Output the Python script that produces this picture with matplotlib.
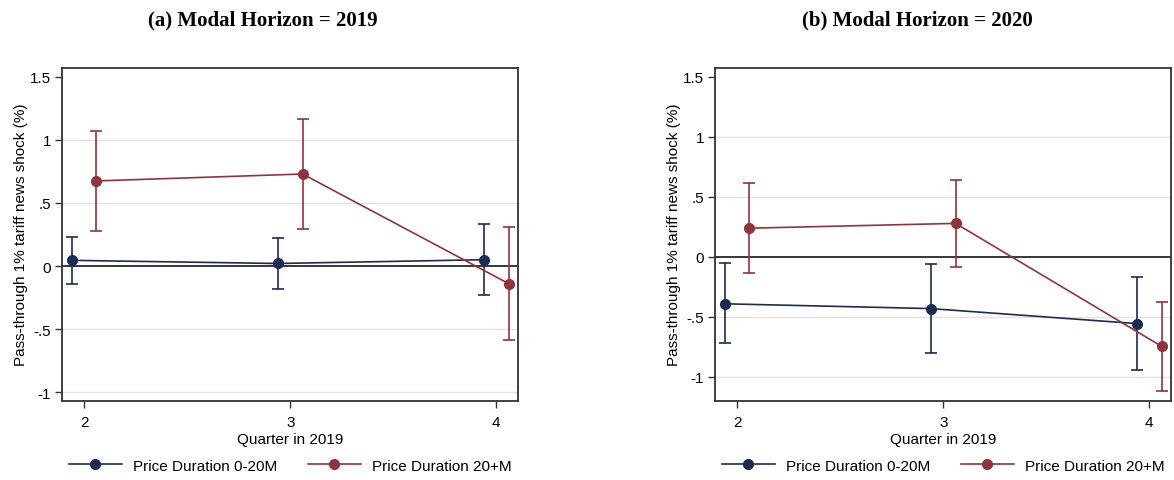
import matplotlib.pyplot as plt

# quarters and point estimates / 95% bands for each panel
quarters = [2, 3, 4]
series_names = ["Price Duration 0-20M", "Price Duration 20+M"]

# (a) modal horizon 2019
a_short = [0.045, 0.02, 0.05]
a_short_lo = [-0.14, -0.18, -0.23]
a_short_hi = [0.23, 0.22, 0.335]
a_long = [0.675, 0.73, -0.14]
a_long_lo = [0.28, 0.29, -0.59]
a_long_hi = [1.07, 1.17, 0.31]

# (b) modal horizon 2020
b_short = [-0.39, -0.43, -0.555]
b_short_lo = [-0.72, -0.80, -0.945]
b_short_hi = [-0.05, -0.06, -0.17]
b_long = [0.24, 0.28, -0.745]
b_long_lo = [-0.13, -0.08, -1.12]
b_long_hi = [0.62, 0.64, -0.375]

ytick_vals = [-1, -0.5, 0, 0.5, 1, 1.5]
ytick_labels = ["-1", "-.5", "0", ".5", "1", "1.5"]

NAVY = "#1c2b52"
MAROON = "#90343c"

plt.rcParams["font.family"] = ["Liberation Sans", "DejaVu Sans"]
plt.rcParams["font.size"] = 11

W, H = 1174, 481
fig = plt.figure(figsize=(W / 100, H / 100), dpi=100)


def px_axes(x0, y0, x1, y1):
    return fig.add_axes([x0 / W, 1 - y1 / H, (x1 - x0) / W, (y1 - y0) / H])


def draw_panel(ax, title, title_x, short, s_lo, s_hi, long_, l_lo, l_hi, ylim):
    off = 0.06
    xs = [q - off for q in quarters]
    xl = [q + off for q in quarters]
    for x, m, lo, hi, col, name in [
        (xs, short, s_lo, s_hi, NAVY, series_names[0]),
        (xl, long_, l_lo, l_hi, MAROON, series_names[1]),
    ]:
        err = [[v - l for v, l in zip(m, lo)], [h - v for v, h in zip(m, hi)]]
        ax.errorbar(x, m, yerr=err, fmt="none", ecolor=col, elinewidth=1.2,
                    capsize=4, capthick=1.2, zorder=3)
        ax.plot(x, m, color=col, lw=1.2, marker="o", markersize=7,
                label=name, zorder=4)

    for y in [-1, -0.5, 0.5, 1]:
        ax.axhline(y, color="#e3e3e3", lw=1, zorder=1)
    ax.axhline(0, color="black", lw=1.1, zorder=2)

    ax.set_xlim(1.893, 4.105)
    ax.set_ylim(*ylim)
    ax.set_xticks(quarters)
    ax.set_xticklabels([str(q) for q in quarters])
    ax.set_yticks(ytick_vals)
    ax.set_yticklabels(ytick_labels)
    ax.tick_params(direction="out", length=5, width=1, color="#333333",
                   labelsize=11, pad=3)
    ax.tick_params(axis="x", pad=5)
    for s in ax.spines.values():
        s.set_color("#333333")
        s.set_linewidth(1.3)

    ax.set_xlabel("Quarter in 2019", fontsize=11, labelpad=2)
    ax.set_ylabel("Pass-through 1% tariff news shock (%)", fontsize=11,
                  labelpad=1)

    fig.text(title_x / W, 1 - 20 / H, title, ha="center", va="center",
             fontsize=15, fontweight="bold", family="Liberation Serif")

    ax.legend(loc="center", bbox_to_anchor=(0.5, -0.194), ncol=2,
              frameon=False, fontsize=11, numpoints=1, handlelength=3.5,
              columnspacing=2.0, handletextpad=0.7, borderaxespad=0)


ax1 = px_axes(62, 68.5, 518, 402)
draw_panel(ax1, "(a) Modal Horizon = 2019", 263,
           a_short, a_short_lo, a_short_hi, a_long, a_long_lo, a_long_hi,
           (-1.071, 1.575))

ax2 = px_axes(715, 68.5, 1171, 402)
draw_panel(ax2, "(b) Modal Horizon = 2020", 917,
           b_short, b_short_lo, b_short_hi, b_long, b_long_lo, b_long_hi,
           (-1.2, 1.579))

fig.savefig("out.png", dpi=100)
